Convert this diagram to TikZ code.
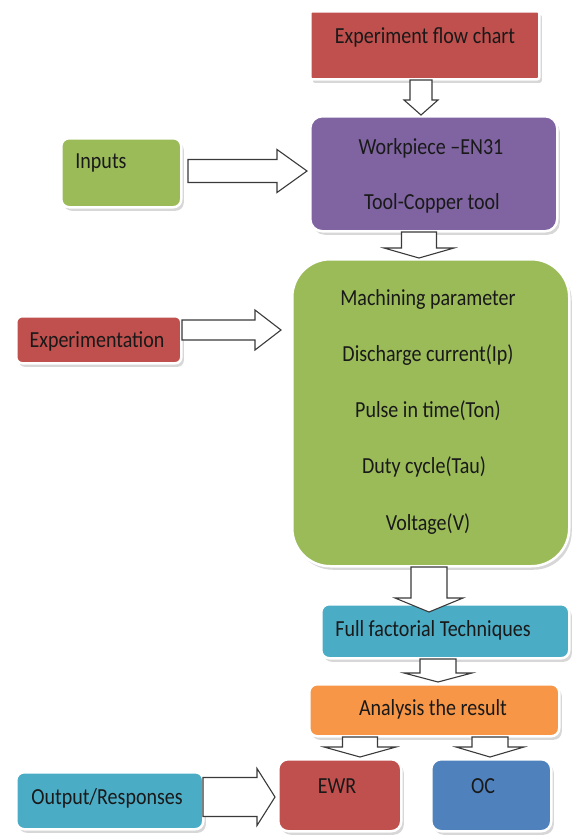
\documentclass[tikz,border=0pt]{standalone}
\usepackage{fontspec}
\setmainfont{Carlito}[FakeStretch=0.87]
\usetikzlibrary{shadows}
\definecolor{cred}{HTML}{C0504D}
\definecolor{cpurple}{HTML}{8064A2}
\definecolor{cgreen}{HTML}{9BBB59}
\definecolor{cteal}{HTML}{4BACC6}
\definecolor{corange}{HTML}{F79646}
\definecolor{cblue}{HTML}{4F81BD}
\definecolor{cline}{HTML}{3A3A3A}
\newcommand\vbarrow[6]{%
  \draw[barrow] (#1-#5,#2) -- (#1+#5,#2) -- (#1+#5,#3) -- (#1+#6,#3) -- (#1,#4) -- (#1-#6,#3) -- (#1-#5,#3) -- cycle;}
\newcommand\hbarrow[6]{%
  \draw[barrow] (#2,#1-#5) -- (#2,#1+#5) -- (#3,#1+#5) -- (#3,#1+#6) -- (#4,#1) -- (#3,#1-#6) -- (#3,#1-#5) -- cycle;}
\begin{document}
\begin{tikzpicture}[x=1pt,y=-1pt,
  box/.style={draw=white, line width=2.5pt, rounded corners=#1, anchor=north west, inner sep=0pt,
    drop shadow={shadow xshift=2.5pt, shadow yshift=-3.5pt, opacity=0.35, fill=black!45}},
  box/.default=8pt,
  txt/.style={font=\fontsize{23}{27}\selectfont, text=black!90, inner sep=0pt},
  barrow/.style={fill=white, draw=cline, line width=1.1pt, line join=miter}]
\useasboundingbox (0,0) rectangle (571,839);
% boxes
\node[box=2pt, fill=cred, minimum width=229pt, minimum height=68pt] (flow) at (309,10) {};
\node[box=12pt, fill=cpurple, minimum width=247pt, minimum height=115pt] (work) at (309,115) {};
\node[box=8pt, fill=cgreen, minimum width=120pt, minimum height=69pt] (inputs) at (60,137) {};
\node[box=6pt, fill=cred, minimum width=165pt, minimum height=47pt] (expt) at (15,315) {};
\node[box=38pt, fill=cgreen, minimum width=277pt, minimum height=307pt] (param) at (291,258) {};
\node[box=8pt, fill=cteal, minimum width=248pt, minimum height=54pt] (ff) at (320,603) {};
\node[box=8pt, fill=corange, minimum width=250pt, minimum height=52pt] (anal) at (308,683) {};
\node[box=10pt, fill=cred, minimum width=123pt, minimum height=72pt] (ewr) at (277,758) {};
\node[box=10pt, fill=cblue, minimum width=120pt, minimum height=72pt] (oc) at (430,758) {};
\node[box=8pt, fill=cteal, minimum width=187pt, minimum height=57pt] (out) at (15,771) {};
% texts
\node[txt] (tflow) at (425,37) {Experiment flow chart};
\node[txt] (twork1) at (431,148) {Workpiece –EN31};
\node[txt] (twork2) at (432,203) {Tool-Copper tool};
\node[txt] (tinputs) at (101,163) {Inputs};
\node[txt] (texpt) at (97,341) {Experimentation};
\node[txt] (tp1) at (428,299) {Machining parameter};
\node[txt] (tp2) at (428,355) {Discharge current(Ip)};
\node[txt] (tp3) at (428,411) {Pulse in time(Ton)};
\node[txt] (tp4) at (424,467) {Duty cycle(Tau)};
\node[txt] (tp5) at (428,524) {Voltage(V)};
\node[txt] (tff) at (433,630) {Full factorial Techniques};
\node[txt] (tanal) at (433,709) {Analysis the result};
\node[txt] (tewr) at (337,786) {EWR};
\node[txt] (toc) at (483,786) {OC};
\node[txt] (tout) at (107,798) {Output/Responses};
% block arrows
\vbarrow{421}{80}{100}{115}{11}{17}
\vbarrow{419}{232}{248}{258}{17.5}{35}
\vbarrow{429}{567}{598}{612}{18}{34}
\vbarrow{438}{659}{673}{682}{18}{34}
\vbarrow{360}{737}{747}{757}{17.5}{36}
\vbarrow{490}{737}{747}{757}{18}{34}
\hbarrow{171}{188}{277}{307}{11.5}{21.5}
\hbarrow{330}{182}{255}{281}{10}{20}
\hbarrow{797}{203}{257}{275}{19.5}{28.5}
\end{tikzpicture}
\end{document}
